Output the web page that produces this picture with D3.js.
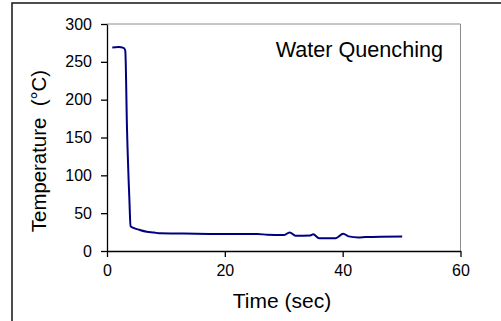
<!DOCTYPE html>
<html>
<head>
<meta charset="utf-8">
<script src="https://cdn.jsdelivr.net/npm/d3@7"></script>
<style>
  body { margin: 0; background: #fff; }
  svg { display: block; font-family: "Liberation Sans", Arial, sans-serif; }
</style>
</head>
<body>
<div id="chart"></div>
<script>
// time (sec) and temperature (°C)
const timeSec = [0.9, 2.0, 2.8, 3.1, 3.4, 3.8, 4.0, 4.5, 5.5, 6.75, 8.0, 9.0, 13, 19, 25.5, 27.2, 30, 31, 32, 34.5, 35, 36, 38.8, 40.1, 41, 42.7, 43.9, 50.1];
const tempC   = [269, 269.5, 268.5, 265, 160, 68, 33, 30.5, 28, 25.5, 24.5, 23.3, 23, 22.5, 22.5, 21.5, 21, 24.6, 20.2, 20.5, 22, 16.8, 17, 22.9, 19.3, 17.8, 18.5, 19.3];
const xTicks = [0, 20, 40, 60];
const yTicks = [0, 50, 100, 150, 200, 250, 300];
const label = "Water Quenching";

const W = 501, H = 321;
const m = { left: 107, top: 24, right: 40.5, bottom: 70 };

const svg = d3.select('#chart').append('svg')
    .attr('width', W)
    .attr('height', H);

// outer frame
svg.append('rect')
    .attr('x', 12).attr('y', 3)
    .attr('width', W).attr('height', H)
    .attr('fill', 'none')
    .attr('stroke', '#222')
    .attr('stroke-width', 1.6);

const x = d3.scaleLinear().domain([0, 60]).range([m.left, W - m.right]);
const y = d3.scaleLinear().domain([0, 300]).range([H - m.bottom, m.top]);

// plot area border (gray, top and right)
svg.append('path')
    .attr('d', `M${x(0)},${y(300)}H${x(60)}V${y(0)}`)
    .attr('fill', 'none')
    .attr('stroke', '#8c8c8c')
    .attr('stroke-width', 1);

const xAxis = svg.append('g')
    .attr('transform', `translate(0,${y(0)})`)
    .call(d3.axisBottom(x).tickValues(xTicks).tickSize(6).tickPadding(8).tickSizeOuter(0));

const yAxis = svg.append('g')
    .attr('transform', `translate(${x(0)},0)`)
    .call(d3.axisLeft(y).tickValues(yTicks).tickSize(6).tickPadding(9).tickSizeOuter(0));

[xAxis, yAxis].forEach(g => {
    g.select('.domain').attr('stroke', '#000').attr('stroke-width', 1.3);
    g.selectAll('.tick line').attr('stroke', '#000').attr('stroke-width', 1.3);
    g.selectAll('.tick text')
        .attr('fill', '#000')
        .style('font-size', '16px')
        .style('font-family', '"Liberation Sans", Arial, sans-serif');
});

const line = d3.line()
    .x((d, i) => x(timeSec[i]))
    .y(d => y(d))
    .curve(d3.curveMonotoneX);

svg.append('path')
    .datum(tempC)
    .attr('d', line)
    .attr('fill', 'none')
    .attr('stroke', '#000080')
    .attr('stroke-width', 2);

svg.append('text')
    .attr('x', 443).attr('y', 57)
    .attr('text-anchor', 'end')
    .style('font-size', '21.6px')
    .text(label);

svg.append('text')
    .attr('x', 282).attr('y', 308)
    .attr('text-anchor', 'middle')
    .style('font-size', '21px')
    .text('Time (sec)');

svg.append('text')
    .attr('transform', `translate(46,151) rotate(-90)`)
    .attr('text-anchor', 'middle')
    .style('font-size', '20.4px')
    .style('white-space', 'pre')
    .text('Temperature  (°C)');
</script>
</body>
</html>
